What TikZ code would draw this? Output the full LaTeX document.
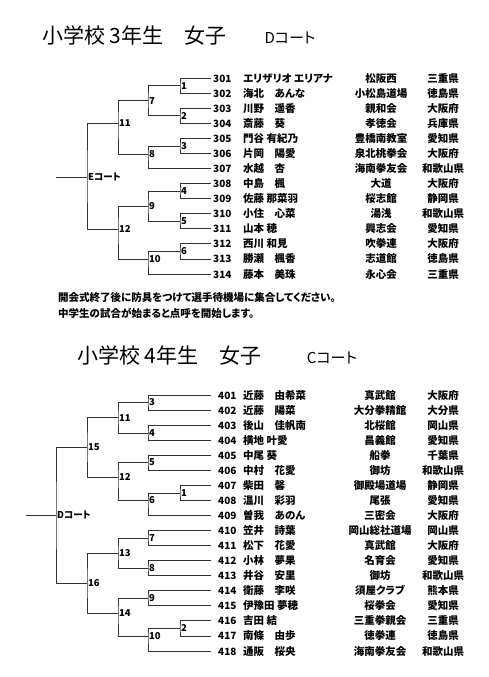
\documentclass[tikz,border=0pt]{standalone}
\usepackage{fontspec}
\setmainfont{Noto Sans CJK JP}[RawFeature=+palt]
\usepackage{tikz}

\tikzset{
  bline/.style={draw=black!80, line width=0.9pt},
  mlabel/.style={anchor=west, inner sep=1pt, font=\fontsize{9.5}{10}\selectfont\bfseries},
  cell/.style={inner sep=0pt, font=\fontsize{10.5}{12}\selectfont\bfseries},
  numcell/.style={cell, anchor=base west, font=\fontsize{10}{12}\selectfont\bfseries},
  title/.style={anchor=base west, inner sep=0pt, font=\fontsize{21}{24}\selectfont},
  court/.style={anchor=base, inner sep=0pt, font=\fontsize{15}{18}\selectfont},
}

\begin{document}
\begin{tikzpicture}[x=1pt, y=-1pt]
    \useasboundingbox (0,0) rectangle (488,677);

    % ---- 3rd grade, D court ----
    \node[title] (title3) at (42,44) {小学校 3年生　女子};
    \node[court] (court3) at (290,44) {Dコート};

    \foreach \num/\name/\club/\pref [count=\i from 0] in {
        301/エリザリオ エリアナ/松阪西/三重県, 302/海北　あんな/小松島道場/徳島県,
        303/川野　遥香/親和会/大阪府, 304/斎藤　葵/孝徳会/兵庫県,
        305/門谷 有紀乃/豊橋南教室/愛知県, 306/片岡　陽愛/泉北桃拳会/大阪府,
        307/水越　杏/海南拳友会/和歌山県, 308/中島　楓/大道/大阪府,
        309/佐藤 那菜羽/桜志館/静岡県, 310/小住　心菜/湯浅/和歌山県,
        311/山本 穂/興志会/愛知県, 312/西川 和見/吹拳連/大阪府,
        313/勝瀬　楓香/志道館/徳島県, 314/藤本　美珠/永心会/三重県} {
        \coordinate (L\num) at (211,78+15.08*\i);
        \node[numcell] (n\num) at (213,82+15.08*\i) {\num};
        \node[cell, anchor=base west] (p\num) at (243,82+15.08*\i) {\name};
        \node[cell, anchor=base] (c\num) at (381,82+15.08*\i) {\club};
        \node[cell, anchor=base] (r\num) at (443,82+15.08*\i) {\pref};
    }

    \coordinate (e1) at (180,85.8);  \coordinate (e2) at (180,115.5);
    \coordinate (e3) at (180,146.5); \coordinate (e4) at (180,191);
    \coordinate (e5) at (180,221);   \coordinate (e6) at (180,251);
    \coordinate (e7) at (148,100.7); \coordinate (e8) at (148,154);
    \coordinate (e9) at (148,206);   \coordinate (e10) at (148,259);
    \coordinate (e11) at (118,123);  \coordinate (e12) at (118,229);
    \coordinate (fE) at (87,177);    \coordinate (sE) at (56,177);

    \draw[bline] (L301) -| (e1) |- (L302);
    \draw[bline] (L303) -| (e2) |- (L304);
    \draw[bline] (L305) -| (e3) |- (L306);
    \draw[bline] (L308) -| (e4) |- (L309);
    \draw[bline] (L310) -| (e5) |- (L311);
    \draw[bline] (L312) -| (e6) |- (L313);
    \draw[bline] (e1) -| (e7) |- (e2);
    \draw[bline] (e3) -| (e8) |- (L307);
    \draw[bline] (e4) -| (e9) |- (e5);
    \draw[bline] (e6) -| (e10) |- (L314);
    \draw[bline] (e7) -| (e11) |- (e8);
    \draw[bline] (e9) -| (e12) |- (e10);
    \draw[bline] (e11) -| (fE) |- (e12);
    \draw[bline] (sE) -- (fE);

    \foreach \m in {1,...,12} { \node[mlabel] (te\m) at (e\m) {\m}; }
    \node[mlabel] (tE) at (fE) {Eコート};

    % ---- notice ----
    \node[cell, anchor=base west] (note1) at (58,301) {開会式終了後に防具をつけて選手待機場に集合してください。};
    \node[cell, anchor=base west] (note2) at (58,317) {中学生の試合が始まると点呼を開始します。};

    % ---- 4th grade, C court ----
    \node[title] (title4) at (77,363) {小学校 4年生　女子};
    \node[court] (court4) at (332,363) {Cコート};

    \foreach \num/\name/\club/\pref [count=\i from 0] in {
        401/近藤　由希菜/真武館/大阪府, 402/近藤　陽菜/大分拳精館/大分県,
        403/後山　佳帆南/北桜館/岡山県, 404/横地 叶愛/昌義館/愛知県,
        405/中尾 葵/船拳/千葉県, 406/中村　花愛/御坊/和歌山県,
        407/柴田　馨/御殿場道場/静岡県, 408/温川　彩羽/尾張/愛知県,
        409/曽我　あのん/三密会/大阪府, 410/笠井　詩葉/岡山総社道場/岡山県,
        411/松下　花愛/真武館/大阪府, 412/小林　夢果/名育会/愛知県,
        413/井谷　安里/御坊/和歌山県, 414/衛藤　李咲/須屋クラブ/熊本県,
        415/伊豫田 夢穂/桜拳会/愛知県, 416/吉田 結/三重拳親会/三重県,
        417/南條　由歩/徳拳連/徳島県, 418/通阪　桜央/海南拳友会/和歌山県} {
        \coordinate (L\num) at (211,395+15.06*\i);
        \node[numcell] (n\num) at (218,399+15.06*\i) {\num};
        \node[cell, anchor=base west] (p\num) at (243,399+15.06*\i) {\name};
        \node[cell, anchor=base] (c\num) at (380,399+15.06*\i) {\club};
        \node[cell, anchor=base] (r\num) at (443,399+15.06*\i) {\pref};
    }

    \coordinate (d1) at (180,493);   \coordinate (d2) at (180,628);
    \coordinate (d3) at (148,402);   \coordinate (d4) at (148,433);
    \coordinate (d5) at (148,462);   \coordinate (d6) at (148,500.5);
    \coordinate (d7) at (148,538);   \coordinate (d8) at (148,568);
    \coordinate (d9) at (148,598);   \coordinate (d10) at (148,636);
    \coordinate (d11) at (118,417.7); \coordinate (d12) at (118,477);
    \coordinate (d13) at (118,553);  \coordinate (d14) at (118,613);
    \coordinate (d15) at (87,447);   \coordinate (d16) at (87,583);
    \coordinate (fD) at (56,515);    \coordinate (sD) at (26,515);

    \draw[bline] (L407) -| (d1) |- (L408);
    \draw[bline] (L416) -| (d2) |- (L417);
    \draw[bline] (L401) -| (d3) |- (L402);
    \draw[bline] (L403) -| (d4) |- (L404);
    \draw[bline] (L405) -| (d5) |- (L406);
    \draw[bline] (d1) -| (d6) |- (L409);
    \draw[bline] (L410) -| (d7) |- (L411);
    \draw[bline] (L412) -| (d8) |- (L413);
    \draw[bline] (L414) -| (d9) |- (L415);
    \draw[bline] (d2) -| (d10) |- (L418);
    \draw[bline] (d3) -| (d11) |- (d4);
    \draw[bline] (d5) -| (d12) |- (d6);
    \draw[bline] (d7) -| (d13) |- (d8);
    \draw[bline] (d9) -| (d14) |- (d10);
    \draw[bline] (d11) -| (d15) |- (d12);
    \draw[bline] (d13) -| (d16) |- (d14);
    \draw[bline] (d15) -| (fD) |- (d16);
    \draw[bline] (sD) -- (fD);

    \foreach \m in {1,...,16} { \node[mlabel] (td\m) at (d\m) {\m}; }
    \node[mlabel] (tD) at (fD) {Dコート};
\end{tikzpicture}
\end{document}
